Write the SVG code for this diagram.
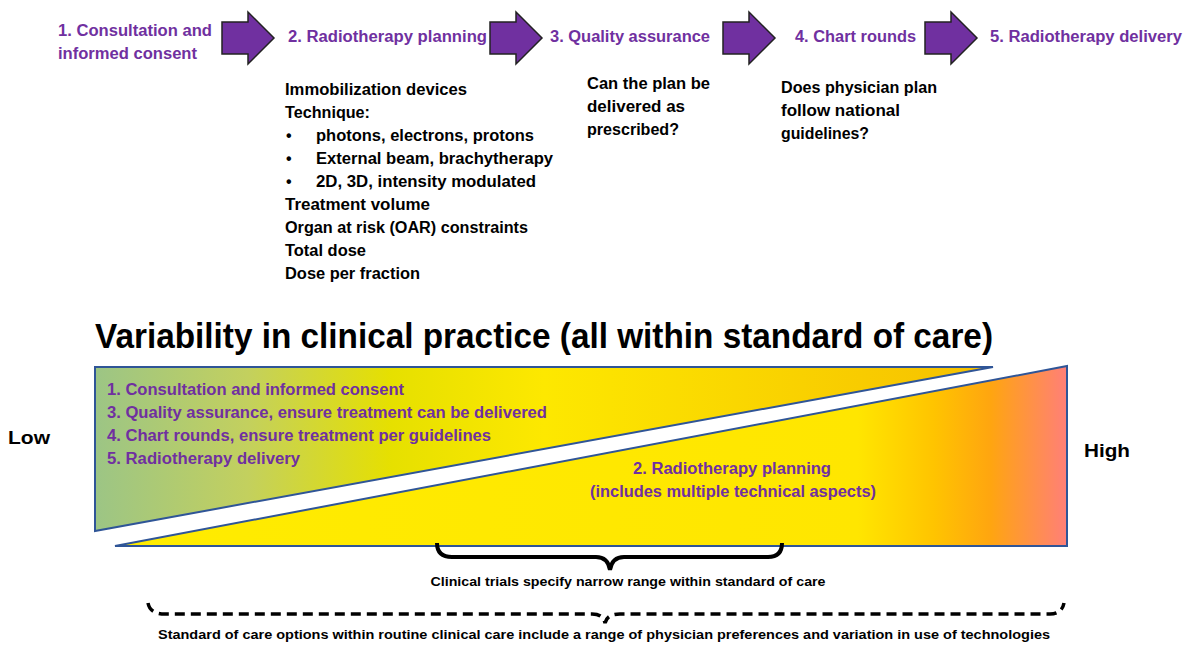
<svg xmlns="http://www.w3.org/2000/svg" width="1184" height="645" viewBox="0 0 1184 645">
<defs>
<linearGradient id="gUp" x1="95" y1="0" x2="993" y2="0" gradientUnits="userSpaceOnUse">
<stop offset="0" stop-color="#9cc585"/>
<stop offset="0.17" stop-color="#c3d05e"/>
<stop offset="0.33" stop-color="#e6e000"/>
<stop offset="0.5" stop-color="#fde800"/>
<stop offset="1" stop-color="#f6c000"/>
</linearGradient>
<linearGradient id="gLow" x1="115" y1="0" x2="1067" y2="0" gradientUnits="userSpaceOnUse">
<stop offset="0" stop-color="#ffec00"/>
<stop offset="0.78" stop-color="#ffe600"/>
<stop offset="0.86" stop-color="#ffc400"/>
<stop offset="0.92" stop-color="#ffa510"/>
<stop offset="1" stop-color="#ff7f78"/>
</linearGradient>
<path id="arrow" d="M0,10 L26,10 L26,0 L52,26 L26,52 L26,42 L0,42 Z"/>
</defs>
<style>
text{font-family:"Liberation Sans",Arial,sans-serif;font-weight:bold}
.step{fill:#7030a0;font-size:16px}
.body{fill:#000;font-size:16px}
.band{fill:#7030a0;font-size:16px}
.small{fill:#000;font-size:12.5px}
.arr{fill:#7030a0;stroke:#222;stroke-width:1.5}
.tri{stroke:#2f5597;stroke-width:2}
</style>
<g id="step1"><text class="step" x="58" y="36" textLength="154" lengthAdjust="spacingAndGlyphs">1. Consultation and</text><text class="step" x="58" y="59" textLength="139" lengthAdjust="spacingAndGlyphs">informed consent</text></g>
<g id="step2"><text class="step" x="288" y="42" textLength="199" lengthAdjust="spacingAndGlyphs">2. Radiotherapy planning</text>
<g class="body">
<text class="body" x="285" y="95" textLength="182" lengthAdjust="spacingAndGlyphs">Immobilization devices</text>
<text class="body" x="285" y="118" textLength="85" lengthAdjust="spacingAndGlyphs">Technique:</text>
<text class="body" x="286" y="141">•</text><text class="body" x="316" y="141" textLength="218" lengthAdjust="spacingAndGlyphs">photons, electrons, protons</text>
<text class="body" x="286" y="164">•</text><text class="body" x="316" y="164" textLength="237" lengthAdjust="spacingAndGlyphs">External beam, brachytherapy</text>
<text class="body" x="286" y="187">•</text><text class="body" x="316" y="187" textLength="220" lengthAdjust="spacingAndGlyphs">2D, 3D, intensity modulated</text>
<text class="body" x="285" y="210" textLength="145" lengthAdjust="spacingAndGlyphs">Treatment volume</text>
<text class="body" x="285" y="233" textLength="243" lengthAdjust="spacingAndGlyphs">Organ at risk (OAR) constraints</text>
<text class="body" x="285" y="256" textLength="81" lengthAdjust="spacingAndGlyphs">Total dose</text>
<text class="body" x="285" y="279" textLength="135" lengthAdjust="spacingAndGlyphs">Dose per fraction</text>
</g></g>
<g id="step3"><text class="step" x="550" y="42" textLength="160" lengthAdjust="spacingAndGlyphs">3. Quality assurance</text>
<text class="body" x="587" y="89" textLength="123" lengthAdjust="spacingAndGlyphs">Can the plan be</text>
<text class="body" x="587" y="112" textLength="98" lengthAdjust="spacingAndGlyphs">delivered as</text>
<text class="body" x="587" y="135" textLength="92" lengthAdjust="spacingAndGlyphs">prescribed?</text></g>
<g id="step4"><text class="step" x="795" y="42" textLength="121" lengthAdjust="spacingAndGlyphs">4. Chart rounds</text>
<text class="body" x="781" y="93" textLength="156" lengthAdjust="spacingAndGlyphs">Does physician plan</text>
<text class="body" x="781" y="116" textLength="119" lengthAdjust="spacingAndGlyphs">follow national</text>
<text class="body" x="781" y="139" textLength="88" lengthAdjust="spacingAndGlyphs">guidelines?</text></g>
<g id="step5"><text class="step" x="990" y="42" textLength="192" lengthAdjust="spacingAndGlyphs">5. Radiotherapy delivery</text></g>
<g id="connectors">
<use href="#arrow" class="arr" x="222" y="12"/>
<use href="#arrow" class="arr" x="490" y="12"/>
<use href="#arrow" class="arr" x="723" y="12"/>
<use href="#arrow" class="arr" x="925" y="12"/>
</g>
<g id="title"><text x="95" y="348" font-size="35.5" fill="#000" textLength="898" lengthAdjust="spacingAndGlyphs">Variability in clinical practice (all within standard of care)</text></g>
<g id="lowBand">
<polygon class="tri" fill="url(#gUp)" points="95,367 993,367 95,531"/>
<text class="band" x="107" y="395" textLength="297" lengthAdjust="spacingAndGlyphs">1. Consultation and informed consent</text>
<text class="band" x="107" y="418" textLength="440" lengthAdjust="spacingAndGlyphs">3. Quality assurance, ensure treatment can be delivered</text>
<text class="band" x="107" y="441" textLength="384" lengthAdjust="spacingAndGlyphs">4. Chart rounds, ensure treatment per guidelines</text>
<text class="band" x="107" y="464" textLength="193" lengthAdjust="spacingAndGlyphs">5. Radiotherapy delivery</text>
</g>
<g id="highBand">
<polygon class="tri" fill="url(#gLow)" points="115,546 1067,366 1067,546"/>
<text class="band" x="732" y="474" text-anchor="middle" textLength="198" lengthAdjust="spacingAndGlyphs">2. Radiotherapy planning</text>
<text class="band" x="733" y="497" text-anchor="middle" textLength="286" lengthAdjust="spacingAndGlyphs">(includes multiple technical aspects)</text>
</g>
<g id="low"><text x="8" y="444" font-size="18" fill="#000" textLength="42" lengthAdjust="spacingAndGlyphs">Low</text></g>
<g id="high"><text x="1084" y="457" font-size="18" fill="#000" textLength="46" lengthAdjust="spacingAndGlyphs">High</text></g>
<g id="trials">
<path d="M437,543 Q437,557 452,557 L596,557 Q608,557 610,570 Q612,557 624,557 L768,557 Q782,557 782,543" fill="none" stroke="#000" stroke-width="4"/>
<text class="small" x="628" y="586" text-anchor="middle" textLength="395" lengthAdjust="spacingAndGlyphs">Clinical trials specify narrow range within standard of care</text>
</g>
<g id="standard">
<path d="M148,603 Q150,614 165,614 L592,614 Q603,614 605,623 Q607,614 620,614 L1050,614 Q1062,614 1064,603" fill="none" stroke="#000" stroke-width="3.5" stroke-dasharray="10,6"/>
<text class="small" x="604" y="639" text-anchor="middle" textLength="892" lengthAdjust="spacingAndGlyphs">Standard of care options within routine clinical care include a range of physician preferences and variation in use of technologies</text>
</g>
</svg>
